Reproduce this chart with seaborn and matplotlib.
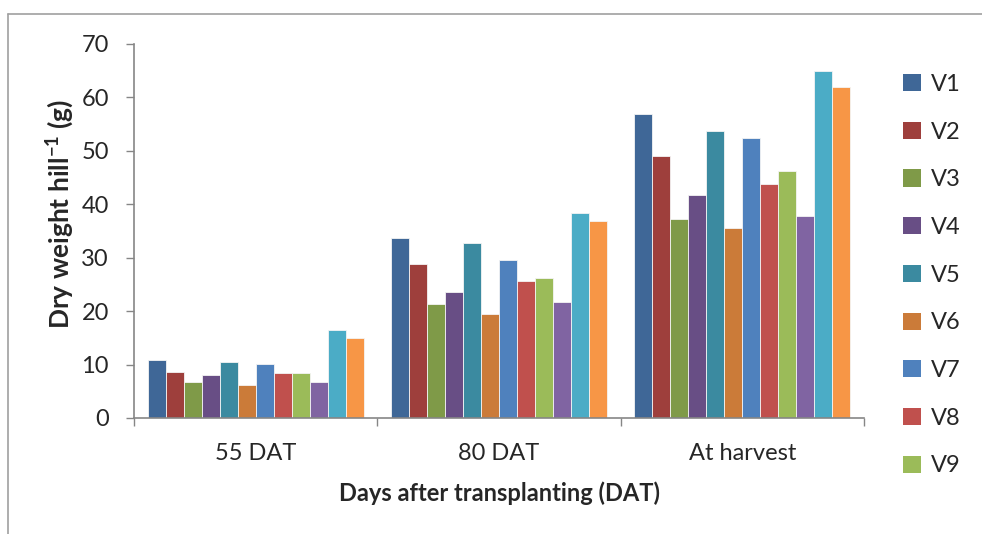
import matplotlib
matplotlib.use("Agg")
import matplotlib.pyplot as plt
from matplotlib.lines import Line2D
from matplotlib.patches import Patch
from matplotlib.ticker import FixedLocator
import pandas as pd
import seaborn as sns

# Dry weight per hill (g) for twelve varieties at three growth stages
stages = ["55 DAT", "80 DAT", "At harvest"]
varieties = ["V1", "V2", "V3", "V4", "V5", "V6", "V7", "V8", "V9", "V10", "V11", "V12"]
dat55 = [10.8, 8.7, 6.7, 8.0, 10.5, 6.1, 10.1, 8.4, 8.5, 6.7, 16.5, 14.9]
dat80 = [33.7, 28.9, 21.4, 23.6, 32.7, 19.4, 29.6, 25.7, 26.2, 21.7, 38.4, 36.8]
harvest = [56.9, 49.1, 37.3, 41.7, 53.8, 35.6, 52.4, 43.8, 46.3, 37.9, 65.0, 61.9]
colors = ["#3F6797", "#9E3F3C", "#7F9A48", "#684E85", "#3B8AA0", "#CB7B39",
          "#4F81BD", "#C0504D", "#9BBB59", "#8064A2", "#4BACC6", "#F79646"]
yticks = [0, 10, 20, 30, 40, 50, 60, 70]

rows = []
for stage, vals in zip(stages, [dat55, dat80, harvest]):
    for var, v in zip(varieties, vals):
        rows.append({"stage": stage, "variety": var, "dry_weight": v})
df = pd.DataFrame(rows)

sns.set_style("white")
plt.rcParams["font.family"] = ["Lato", "DejaVu Sans"]
plt.rcParams["mathtext.fontset"] = "custom"
plt.rcParams["mathtext.rm"] = "Lato:bold"
plt.rcParams["mathtext.bf"] = "Lato:bold"
plt.rcParams["mathtext.default"] = "bf"

fig = plt.figure(figsize=(9.82, 5.34), dpi=100)
ax = fig.add_axes([134 / 982, 1 - 418 / 534, 730 / 982, 374 / 534])

sns.barplot(data=df, x="stage", y="dry_weight", hue="variety", order=stages,
            hue_order=varieties, palette=colors, width=0.888, gap=0,
            saturation=1, edgecolor="#f4f4f4", linewidth=0.6,
            legend=False, ax=ax)

grey = "#868686"
ax.set_ylim(0, 70)
ax.set_xlim(-0.5, 2.5)
ax.set_yticks(yticks)
ax.tick_params(axis="y", length=6, width=1, color=grey, direction="out",
               pad=12, labelsize=17, left=True)
ax.tick_params(axis="x", which="major", length=0, pad=18, labelsize=17)
ax.xaxis.set_minor_locator(FixedLocator([-0.5, 0.5, 1.5, 2.5]))
ax.tick_params(axis="x", which="minor", length=6, width=1, color=grey,
               direction="out", bottom=True)
for side in ["top", "right"]:
    ax.spines[side].set_visible(False)
for side in ["left", "bottom"]:
    ax.spines[side].set_color(grey)
    ax.spines[side].set_linewidth(1.2)

ax.set_xlabel("Days after transplanting (DAT)", fontsize=17, fontweight="bold")
ax.set_ylabel("Dry weight hill$^{-1}$ (g)", fontsize=19, fontweight="bold")
ax.xaxis.set_label_coords(0.501, -0.17)
ax.yaxis.set_label_coords(-0.079, 0.545)

# legend lists the first nine varieties
handles = [Patch(facecolor=c, edgecolor="none") for c in colors[:9]]
fig.legend(handles, varieties[:9], loc="upper left",
           bbox_to_anchor=(903 / 982, 1 - 74 / 534), frameon=False,
           fontsize=17, handlelength=0.75, handleheight=0.75,
           handletextpad=0.45, labelspacing=1.13, borderpad=0,
           borderaxespad=0)

# outer chart frame
fig.add_artist(Line2D([8 / 982, 8 / 982], [0, 1 - 14 / 534],
                      color="#a0a0a0", lw=1.2, transform=fig.transFigure))
fig.add_artist(Line2D([8 / 982, 1], [1 - 14 / 534, 1 - 14 / 534],
                      color="#a0a0a0", lw=1.2, transform=fig.transFigure))

fig.savefig("out.png", dpi=100)
